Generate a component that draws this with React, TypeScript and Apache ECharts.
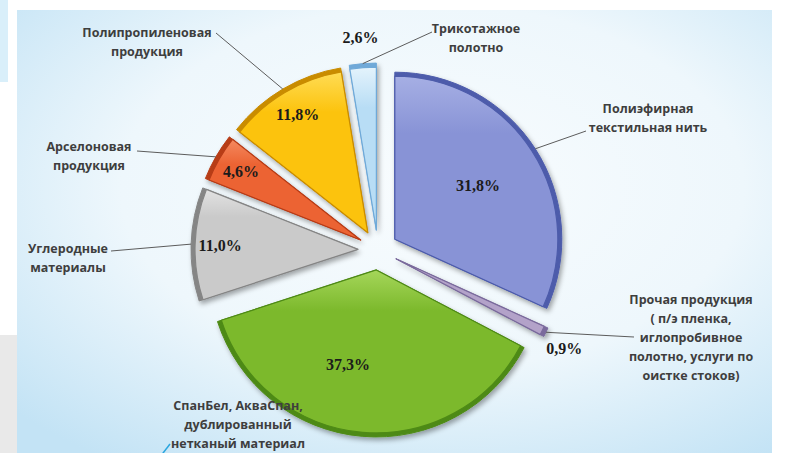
import React, { useEffect, useRef } from 'react';
import * as echarts from 'echarts';

// ---- data (clockwise from 12 o'clock) ----
const categories = [
  'Полиэфирная\nтекстильная нить',
  'Прочая продукция\n( п/э пленка,\nиглопробивное\nполотно, услуги по\nоистке стоков)',
  'СпанБел, АкваСпан,\nдублированный\nнетканый материал',
  'Углеродные\nматериалы',
  'Арселоновая\nпродукция',
  'Полипропиленовая\nпродукция',
  'Трикотажное\nполотно',
];
const shares = [31.8, 0.9, 37.3, 11.0, 4.6, 11.8, 2.6];
const faceColors = ['#8893d6', '#b3a2c9', '#7cb92c', '#cacaca', '#ec6333', '#fcc30d', '#b8ddf5'];
const lightColors = ['#a6afe4', '#d2c6e0', '#a5d65a', '#e2e2e2', '#f48a60', '#ffdc55', '#e4f3fc'];
const rimColors = ['#4d5cab', '#7a6a9c', '#4e8a16', '#858585', '#b73c17', '#c98c00', '#6fa9d8'];
// where each percentage sits: inside near apex, inside near rim, or outside the slice
const pctRing = ['inner', 'outer', 'inner', 'middle', 'middle', 'middle', 'outer'];

// ---- layout ----
const CX = 378;
const CY = 250;
const R = 167;
const OFF = 20;
const RING: Record<string, [number, number]> = {
  inner: [45, R + OFF],
  middle: [123, R + OFF],
  outer: [200, 220],
};
const pctNudge: Record<number, [number, number]> = { 2: [-20, -4], 1: [-5, 5] };
// category label block centres and leader-line ends
const catAnchors = [
  { x: 648, y: 118, line: [[586, 131]] },
  { x: 691, y: 337, line: [[634, 337]] },
  { x: 238, y: 424, line: null as null | number[][] },
  { x: 68, y: 258, line: [[111, 251]] },
  { x: 89, y: 156, line: [[137, 151]] },
  { x: 147, y: 42, line: [[216, 33]] },
  { x: 476, y: 38, line: [[432, 32]] },
];

const fmt = (v: number) => v.toFixed(1).replace('.', ',') + '%';

export default function App() {
  const ref = useRef<HTMLDivElement>(null);
  useEffect(() => {
    document.body.style.margin = '0';
    const chart = echarts.init(ref.current!, undefined, { renderer: 'svg' });

    const transparent = 'rgba(0,0,0,0)';
    const pctSeries = Object.keys(RING).map((ring) => ({
      type: 'pie',
      center: [CX, CY],
      radius: RING[ring],
      startAngle: 90,
      clockwise: true,
      silent: true,
      avoidLabelOverlap: false,
      z: 5,
      emphasis: { disabled: true },
      itemStyle: { color: transparent, borderWidth: 0 },
      labelLine: { show: false },
      label: {
        position: 'inside',
        formatter: (p: any) => fmt(p.value),
        fontFamily: '"Liberation Serif", "Times New Roman", serif',
        fontWeight: 'bold',
        fontSize: 16,
        color: '#1b1b1b',
      },
      labelLayout: (p: any) => {
        const n = pctNudge[p.dataIndex];
        return n ? { dx: n[0], dy: n[1] } : {};
      },
      data: shares.map((v, i) => ({
        name: categories[i],
        value: v,
        label: { show: pctRing[i] === ring },
      })),
    }));

    const sliceData = (inner: boolean) =>
      shares.map((v, i) => ({
        name: categories[i],
        value: v,
        selected: true,
        itemStyle: inner
          ? {
              color: new echarts.graphic.LinearGradient(0, 0, 0, 1, [
                { offset: 0, color: lightColors[i] },
                { offset: 0.25, color: faceColors[i] },
                { offset: 1, color: faceColors[i] },
              ]),
              borderColor: rimColors[i],
              borderWidth: 1.2,
            }
          : {
              color: rimColors[i],
              borderColor: rimColors[i],
              borderWidth: 1,
              shadowBlur: 5,
              shadowOffsetX: 2,
              shadowOffsetY: 3,
              shadowColor: 'rgba(0,0,0,0.35)',
            },
      }));

    const sliceBase = {
      type: 'pie',
      center: [CX, CY],
      startAngle: 90,
      clockwise: true,
      selectedMode: 'multiple',
      selectedOffset: OFF,
      avoidLabelOverlap: false,
      silent: true,
      emphasis: { disabled: true },
      label: { show: false },
      labelLine: { show: false },
    };

    chart.setOption({
      animation: false,
      graphic: [
        {
          type: 'rect',
          z: -10,
          silent: true,
          shape: { x: 0, y: 0, width: 8, height: 82 },
          style: { fill: '#d9effa' },
        },
        {
          type: 'rect',
          z: -10,
          silent: true,
          shape: { x: 0, y: 335, width: 17, height: 118 },
          style: { fill: '#e9e9e9' },
        },
        {
          type: 'rect',
          z: -10,
          silent: true,
          shape: { x: 17, y: 10, width: 755, height: 443 },
          style: {
            fill: new echarts.graphic.RadialGradient(0.55, 0.4, 0.75, [
              { offset: 0, color: '#f8fcfe' },
              { offset: 0.55, color: '#eef7fc' },
              { offset: 1, color: '#c3e3f5' },
            ]),
          },
        },
      ],
      series: [
        { ...sliceBase, radius: R, z: 2, data: sliceData(false) },
        { ...sliceBase, radius: R - 4, z: 3, data: sliceData(true) },
        ...pctSeries,
        {
          type: 'pie',
          center: [CX, CY],
          radius: R + OFF,
          startAngle: 90,
          clockwise: true,
          silent: true,
          avoidLabelOverlap: false,
          z: 4,
          emphasis: { disabled: true },
          itemStyle: { color: transparent, borderWidth: 0 },
          label: {
            show: true,
            position: 'outside',
            formatter: '{b}',
            fontFamily: '"Open Sans", "Noto Sans", sans-serif',
            fontWeight: 'bold',
            fontSize: 12.5,
            lineHeight: 19,
            color: '#3e3e3e',
          },
          labelLine: {
            show: true,
            length: 10,
            length2: 10,
            lineStyle: { color: '#5c5c5c', width: 1 },
          },
          labelLayout: (p: any) => {
            const a = catAnchors[p.dataIndex];
            const start = p.labelLinePoints ? p.labelLinePoints[0] : [CX, CY];
            const pts = a.line ? [start, ...a.line] : [[170, 444], [150, 470]];
            return {
              x: a.x,
              y: a.y,
              align: 'center',
              verticalAlign: 'middle',
              labelLinePoints: pts,
            };
          },
          data: shares.map((v, i) => ({
            name: categories[i],
            value: v,
            labelLine: i === 2 ? { lineStyle: { color: '#2aa6df', width: 1.5 } } : undefined,
          })),
        },
      ],
    });
    return () => chart.dispose();
  }, []);
  return <div ref={ref} style={{ width: 787, height: 453 }} />;
}
